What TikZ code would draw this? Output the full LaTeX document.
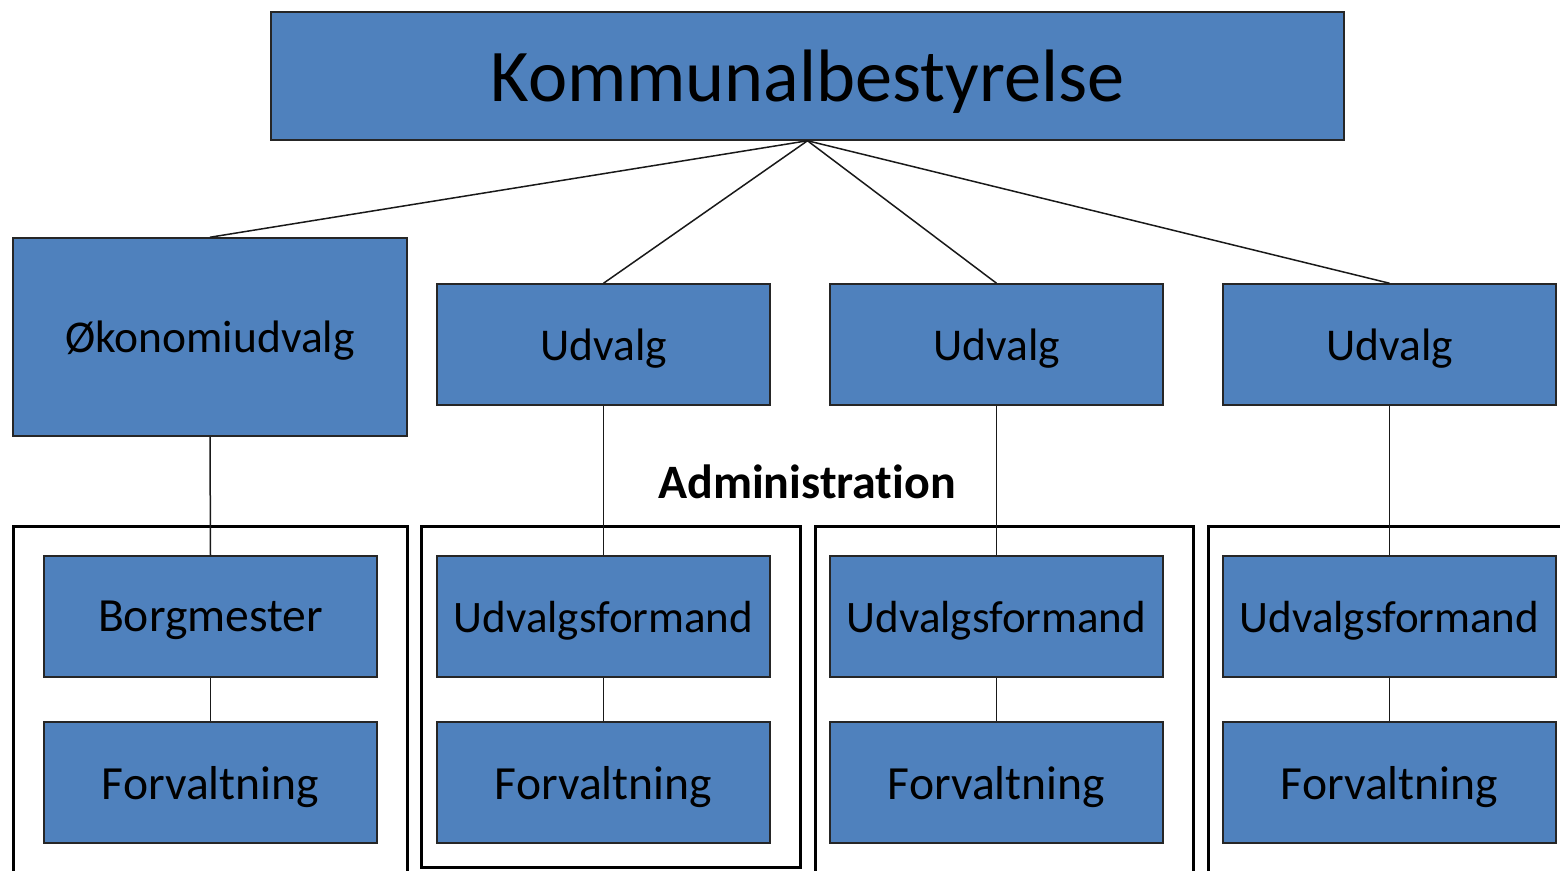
\documentclass[tikz,border=0pt]{standalone}
\usepackage{fontspec}
\setmainfont{Carlito}[Ligatures=NoCommon]
\definecolor{boxblue}{HTML}{4F81BD}
\begin{document}
\begin{tikzpicture}[x=1pt,y=-1pt,
  unit/.style={draw=black!85, line width=1.5pt, fill=boxblue, inner sep=0pt,
    text depth=0pt, font=\fontsize{45.5}{54}\selectfont, text=black},
  wide/.style={unit, minimum width=333pt, minimum height=121pt},
  bigtext/.style={font=\fontsize{47.6}{56}\selectfont},
  link/.style={draw=black!90, line width=1.5pt},
  frame/.style={draw=black, line width=3pt}]
\useasboundingbox (0,0) rectangle (1560,870);
\clip (0,0) rectangle (1560,870);
% administration frames
\draw[frame] (13,900) -- (13,526) -- (407,526) -- (407,900);
\draw[frame] (421,867) rectangle (800,526);
\draw[frame] (815,900) -- (815,526) -- (1193,526) -- (1193,900);
\draw[frame] (1208,900) -- (1208,526) -- (1580,526);
% nodes
\node[unit, minimum width=1073pt, minimum height=128pt, font=\fontsize{74.3}{88}\selectfont] (top) at (807.5,76) {Kommunalbestyrelse};
\node[unit, minimum width=394pt, minimum height=198pt] (oek) at (210,337) {Økonomiudvalg};
\node[wide] (u1) at (603.5,344.5) {Udvalg};
\node[wide] (u2) at (996.5,344.5) {Udvalg};
\node[wide] (u3) at (1389.5,344.5) {Udvalg};
\node[wide, bigtext, text depth=-2pt] (b) at (210.5,616.5) {Borgmester};
\node[wide, bigtext] (f0) at (210.5,782.5) {Forvaltning};
\node[wide, font=\fontsize{45}{54}\selectfont, text depth=-2pt] (uf1) at (603.5,616.5) {Udvalgsformand};
\node[wide, bigtext] (f1) at (603.5,782.5) {Forvaltning};
\node[wide, font=\fontsize{45}{54}\selectfont, text depth=-2pt] (uf2) at (996.5,616.5) {Udvalgsformand};
\node[wide, bigtext] (f2) at (996.5,782.5) {Forvaltning};
\node[wide, font=\fontsize{45}{54}\selectfont, text depth=-2pt] (uf3) at (1389.5,616.5) {Udvalgsformand};
\node[wide, bigtext] (f3) at (1389.5,782.5) {Forvaltning};
\node[font=\fontsize{48}{56}\selectfont\bfseries, inner sep=0pt] (adm) at (807,482) {Administration};
% connectors
\draw[link] (top.south) -- (oek.north);
\draw[link] (top.south) -- (u1.north);
\draw[link] (top.south) -- (u2.north);
\draw[link] (top.south) -- (u3.north);
\draw[link] (oek.south) -- (b.north);
\draw[link] (b.south) -- (f0.north);
\draw[link] (u1.south) -- (uf1.north);
\draw[link] (uf1.south) -- (f1.north);
\draw[link] (u2.south) -- (uf2.north);
\draw[link] (uf2.south) -- (f2.north);
\draw[link] (u3.south) -- (uf3.north);
\draw[link] (uf3.south) -- (f3.north);
\end{tikzpicture}
\end{document}
